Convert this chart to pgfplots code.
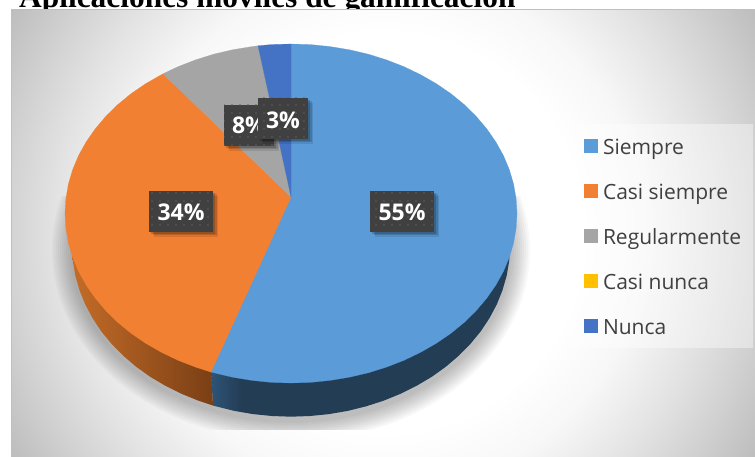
\documentclass[border=0pt]{standalone}
\usepackage{pgfplots}
\pgfplotsset{compat=1.18}
\usepackage{fontspec}
\setmainfont{Open Sans}
\newfontfamily\titlefont{Liberation Serif}
\usetikzlibrary{patterns.meta}
\definecolor{cBlue}{HTML}{5B9BD7}
\definecolor{cOrange}{HTML}{F28032}
\definecolor{cGray}{HTML}{A5A5A5}
\definecolor{cYellow}{HTML}{FFC000}
\definecolor{cNavy}{HTML}{4472C4}
\definecolor{cLab}{HTML}{404040}
\definecolor{cDot}{HTML}{5C5C5C}
\definecolor{cText}{HTML}{404040}
\definecolor{sb1}{HTML}{2E5478}
\definecolor{sb2}{HTML}{233D55}
\definecolor{so1}{HTML}{C46C28}
\definecolor{so2}{HTML}{7A3F15}
\pgfdeclareradialshading{bgshade}{\pgfpoint{0bp}{0bp}}{color(0bp)=(white);color(10bp)=(white);color(13bp)=(black!3);color(16.4bp)=(black!11);color(18.6bp)=(black!17);color(21.75bp)=(black!26);color(25bp)=(black!33);color(50bp)=(black!33)}
\pgfdeclarehorizontalshading{blueside}{100bp}{color(0bp)=(sb1);color(25bp)=(sb1);color(30bp)=(sb2);color(100bp)=(sb2)}
\pgfdeclarehorizontalshading{orangeside}{100bp}{color(0bp)=(so1);color(25bp)=(so1);color(75bp)=(so2);color(100bp)=(so2)}
\newcommand\lab[7]{%
  \fill[black,opacity=.10,xshift=5pt,yshift=-5pt] (axis cs:#1,#2) rectangle (axis cs:#3,#4);
  \fill[black,opacity=.14,xshift=3.5pt,yshift=-3.5pt] (axis cs:#1,#2) rectangle (axis cs:#3,#4);
  \fill[black,opacity=.18,xshift=2pt,yshift=-2pt] (axis cs:#1,#2) rectangle (axis cs:#3,#4);
  \fill[cLab] (axis cs:#1,#2) rectangle (axis cs:#3,#4);
  \fill[pattern={Dots[distance=8pt,radius=0.9pt]},pattern color=cDot] (axis cs:#1,#2) rectangle (axis cs:#3,#4);
  \node[text=white,inner sep=0pt,font=\bfseries\fontsize{23}{26}\selectfont] at (axis cs:#5,#6) {#7};
}
\begin{document}
\begin{tikzpicture}
\path[use as bounding box] (0,0) rectangle (755pt,457pt);
\clip (0,0) rectangle (755pt,457pt);
\fill[white] (0,0) rectangle (755pt,457pt);
\node[anchor=base west,inner sep=0pt,font=\titlefont\bfseries\fontsize{31.4}{34}\selectfont,text=black] at (19pt,449.5pt) {Aplicaciones móviles de gamificación};
\begin{scope}
  \clip (11pt,0pt) rectangle (755pt,447pt);
  \shade[shading=bgshade] (-117pt,-276pt) rectangle (883pt,724pt);
\end{scope}
\draw[black!25,line width=1pt] (11pt,0pt) -- (11pt,447pt) -- (755pt,447pt);
\begin{scope}
  \clip (40pt,27pt) rectangle (540pt,260pt);
  \foreach \r in {2,4,...,20} {
    \fill[black,opacity=.028] (291pt,207pt) ellipse [x radius={219pt+\r pt}, y radius={171pt+\r pt}];
  }
\end{scope}
\begin{axis}[
  scale only axis, width=755pt, height=457pt,
  xmin=0, xmax=755, ymin=0, ymax=457, y dir=reverse,
  hide axis, clip=false,
  legend cell align=left,
  legend image code/.code={\path (0pt,0pt); \path[#1,draw=none,fill opacity=1] (3.3pt,-6.3pt) rectangle (17.3pt,7.7pt);},
  legend style={
    at={(axis cs:570.7,124)}, anchor=north west,
    fill=white, fill opacity=.4, text opacity=1, draw=none,
    inner xsep=10pt, inner ysep=10pt,
    row sep=21pt, column sep=2.7pt,
    font=\fontsize{21}{24}\selectfont, text=cText,
    nodes={text height=18pt,text depth=2pt,inner sep=2pt},
  },
]
% side wall, blue part
\addplot[forget plot,shade,shading=blueside,draw=none] coordinates {
(211,372)(213,405.5)(216.1,406.4)(234.3,410.9)(253,414.1)(271.9,416)(291,416.7)(310.1,416)(329,414.1)(347.7,410.9)(365.9,406.4)(383.6,400.7)(400.5,393.8)(416.6,385.8)(431.8,376.8)(445.9,366.7)(458.8,355.7)(470.4,343.9)(480.7,331.4)(489.5,318.1)(496.8,304.4)(502.5,290.2)(506.7,275.6)(509.2,260.9)(510,246)(480,240)(291,300)
} -- cycle;
% side wall, orange part
\addplot[forget plot,shade,shading=orangeside,draw=none] coordinates {
(211,372)(213,405.5)(198.4,400.7)(181.5,393.8)(165.4,385.8)(150.2,376.8)(136.1,366.7)(123.2,355.7)(111.6,343.9)(101.3,331.4)(92.5,318.1)(85.2,304.4)(79.5,290.2)(75.3,275.6)(72.8,260.9)(72,246)(100,240)(200,300)
} -- cycle;
% Siempre 55
\addplot[fill=cBlue,draw=cBlue,line width=.2pt] coordinates {
(291,197)(291,44)(310.7,44.6)(330.2,46.6)(349.5,49.8)(368.3,54.2)(386.5,59.9)(404,66.7)(420.6,74.7)(436.3,83.7)(450.8,93.6)(464.1,104.5)(476.1,116.3)(486.7,128.75)(495.8,141.9)(503.4,155.5)(509.3,169.6)(513.6,184.1)(516.1,198.7)(517,213.5)(516.1,228.3)(513.6,242.9)(509.3,257.4)(503.4,271.5)(495.8,285.1)(486.7,298.25)(476.1,310.7)(464.1,322.5)(450.8,333.4)(436.3,343.3)(420.6,352.3)(404,360.3)(386.5,367.1)(368.3,372.8)(349.5,377.2)(330.2,380.4)(310.7,382.4)(291,383)(271.3,382.4)(251.8,380.4)(232.5,377.2)(211,372.1)
} -- cycle;
\addlegendentry{Siempre}
% Casi siempre 34
\addplot[fill=cOrange,draw=cOrange,line width=.2pt] coordinates {
(291,197)(211,372.1)(195.5,367.1)(178,360.3)(161.4,352.3)(145.7,343.3)(131.2,333.4)(117.9,322.5)(105.9,310.7)(95.3,298.25)(86.2,285.1)(78.6,271.5)(72.7,257.4)(68.4,242.9)(65.9,228.3)(65,213.5)(65.9,198.7)(68.4,184.1)(72.7,169.6)(78.6,155.5)(86.2,141.9)(95.3,128.75)(105.9,116.3)(117.9,104.5)(131.2,93.6)(145.7,83.7)(163,73.8)
} -- cycle;
\addlegendentry{Casi siempre}
% Regularmente 8
\addplot[fill=cGray,draw=cGray,line width=.2pt] coordinates {
(291,197)(163,73.8)(178,66.7)(195.5,59.9)(213.7,54.2)(232.5,49.8)(251.8,46.6)(258,45.8)
} -- cycle;
\addlegendentry{Regularmente}
% Casi nunca 0
\addplot[fill=cYellow,draw=none] coordinates {(291,197)(258,45.8)} -- cycle;
\addlegendentry{Casi nunca}
% Nunca 3
\addplot[fill=cNavy,draw=cNavy,line width=.2pt] coordinates {
(291,197)(258,45.8)(271.3,44.6)(291,44)
} -- cycle;
\addlegendentry{Nunca}
\lab{370}{191}{434}{232}{402}{212}{55\%}
\lab{149}{191}{213}{232}{181}{212}{34\%}
\lab{224}{105}{274}{146}{249}{125}{8\%}
\lab{258}{98}{308}{139}{283}{120}{3\%}
\end{axis}
\end{tikzpicture}
\end{document}
